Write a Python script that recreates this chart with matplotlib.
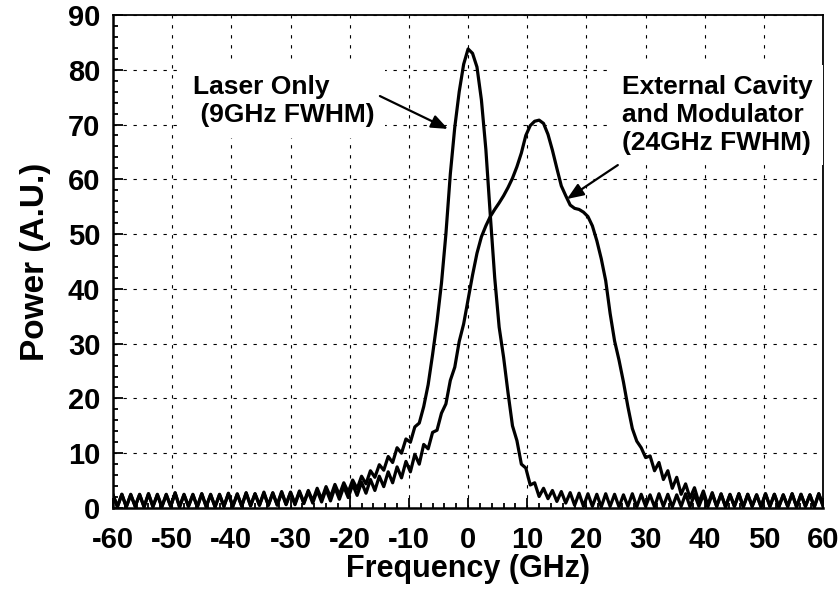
#!/usr/bin/env python3
# -*- coding: utf-8 -*-
"""
Spectrum of the laser alone vs. laser + external cavity and modulator
"""

import numpy as np

import matplotlib as mpl
mpl.use('Agg')
import matplotlib.pyplot as plt

font_name = ['Liberation Sans', 'DejaVu Sans']
mpl.rc('font', family=font_name, weight='bold')
mpl.rc('axes', unicode_minus=False)

# sample grid of the measurement (GHz), 0.75 GHz step
freq = np.linspace(-60, 60, 161)

# power (A.U.)
laser_only = [
    2.4, 0.2, 2.5, 0.2, 2.4, 0.3, 2.5, 0.2, 2.6, 0.3,
    2.4, 0.2, 2.5, 0.3, 2.8, 0.2, 2.4, 0.3, 2.5, 0.2,
    2.6, 0.3, 2.4, 0.2, 2.5, 0.3, 2.7, 0.3, 2.5, 0.4,
    2.8, 0.4, 2.6, 0.5, 2.9, 0.5, 2.8, 0.6, 3.0, 0.7,
    2.9, 0.8, 3.1, 1.0, 3.2, 1.3, 3.6, 1.6, 3.9, 2.0,
    4.3, 2.4, 4.6, 2.9, 5.1, 3.5, 5.8, 4.4, 6.8, 5.6,
    7.9, 6.9, 9.4, 8.3, 11.0, 10.0, 12.6, 12.0, 14.8, 15.5,
    18.5, 22.5, 28.0, 34.0, 41.0, 50.0, 61.0, 69.5, 76.0, 81.0,
    83.8, 83.0, 80.5, 74.5, 65.5, 53.5, 42.0, 33.0, 27.5, 21.0,
    15.0, 12.3, 8.0, 7.3, 4.2, 4.6, 2.1, 3.6, 1.7, 3.2,
    1.2, 3.0, 0.9, 2.8, 0.5, 2.7, 0.3, 2.6, 0.3, 2.5,
    0.2, 2.6, 0.3, 2.5, 0.2, 2.4, 0.3, 2.6, 0.2, 2.5,
    0.3, 2.4, 0.2, 2.6, 0.3, 2.5, 0.2, 2.4, 0.3, 2.6,
    0.2, 2.5, 0.3, 2.4, 0.2, 2.6, 0.3, 2.5, 0.2, 2.4,
    0.3, 2.6, 0.2, 2.5, 0.3, 2.4, 0.2, 2.6, 0.3, 2.5,
    0.2, 2.4, 0.3, 2.6, 0.2, 2.5, 0.3, 2.4, 0.2, 2.6,
    0.3,
]

cavity_mod = [
    2.4, 0.3, 2.5, 0.2, 2.5, 0.3, 2.4, 0.2, 2.6, 0.2,
    2.5, 0.2, 2.4, 0.3, 2.7, 0.2, 2.5, 0.3, 2.4, 0.2,
    2.6, 0.2, 2.5, 0.2, 2.4, 0.3, 2.6, 0.3, 2.6, 0.3,
    2.7, 0.4, 2.6, 0.5, 2.7, 0.5, 2.7, 0.5, 2.8, 0.6,
    2.8, 0.6, 2.9, 0.8, 3.0, 0.9, 3.2, 1.1, 3.4, 1.3,
    3.7, 1.6, 3.9, 1.9, 4.3, 2.3, 4.7, 2.7, 5.2, 3.2,
    5.8, 3.9, 6.6, 4.6, 7.5, 5.5, 8.5, 6.6, 9.8, 8.0,
    11.6, 10.8, 13.8, 14.2, 17.3, 19.0, 23.3, 25.7, 30.4, 33.6,
    38.0, 42.5, 46.5, 49.5, 51.5, 53.2, 54.5, 55.7, 57.0, 58.5,
    60.2, 62.3, 64.8, 68.0, 69.8, 70.6, 70.8, 70.2, 68.2, 65.3,
    62.0, 58.8, 57.0, 55.3, 54.7, 54.5, 54.0, 53.2, 51.5, 48.8,
    45.5, 41.5, 35.5, 30.5, 27.0, 23.0, 18.5, 14.5, 12.2, 11.0,
    9.2, 9.5, 6.8, 8.3, 5.2, 6.8, 3.6, 5.6, 2.5, 4.4,
    1.8, 3.7, 1.0, 3.1, 0.5, 2.8, 0.3, 2.6, 0.2, 2.5,
    0.3, 2.6, 0.2, 2.5, 0.3, 2.4, 0.2, 2.6, 0.3, 2.5,
    0.2, 2.4, 0.3, 2.6, 0.2, 2.5, 0.3, 2.4, 0.2, 2.6,
    0.3,
]

x_ticks = np.arange(-60, 61, 10)
y_ticks = np.arange(0, 91, 10)

fig = plt.figure(figsize=(8.4, 5.94), dpi=100)
ax = fig.add_axes([0.1345, 0.1448, 0.8455, 0.83])

ax.plot(freq, laser_only, color='black', lw=2.3)
ax.plot(freq, cavity_mod, color='black', lw=2.3)

ax.set_xlim(-60, 60)
ax.set_ylim(0, 90)
ax.set_xticks(x_ticks)
ax.set_yticks(y_ticks)
ax.set_xticks(np.arange(-60, 61, 2), minor=True)
ax.set_yticks(np.arange(0, 91, 2), minor=True)
ax.tick_params(which='both', direction='in', top=False, right=False,
               width=1.3, labelsize=21)
ax.tick_params(which='major', length=7)
ax.tick_params(which='minor', length=3.6)
ax.tick_params(axis='x', pad=13)
ax.tick_params(axis='y', pad=9)

for side in ['left', 'bottom']:
    ax.spines[side].set_linewidth(1.8)
for side in ['top', 'right']:
    ax.spines[side].set_linewidth(1.3)

ax.grid(which='major', color='black', linestyle=(0, (3, 6)), linewidth=0.8)

ax.set_xlabel("Frequency (GHz)", fontsize=22, fontweight='bold', labelpad=0)
ax.set_ylabel("Power (A.U.)", fontsize=24, fontweight='bold', labelpad=12)

box = dict(boxstyle='square,pad=0.4', facecolor='white', edgecolor='none')

ax.text(-46.5, 79.0, "Laser Only\n (9GHz FWHM)", fontsize=19,
        fontweight='bold', ha='left', va='top', bbox=box, zorder=3)
ax.text(26.0, 79.0, "External Cavity\nand Modulator\n(24GHz FWHM)",
        fontsize=19, fontweight='bold', ha='left', va='top', bbox=box,
        zorder=3)

arrow = dict(arrowstyle='-|>,head_length=1.0,head_width=0.4',
             color='black', lw=1.6, shrinkA=0, shrinkB=0)
ax.annotate("", xy=(-3.4, 69.2), xytext=(-14.9, 75.2), arrowprops=arrow,
            zorder=4)
ax.annotate("", xy=(16.7, 56.4), xytext=(25.3, 62.6), arrowprops=arrow,
            zorder=4)

fig.savefig('out.png', dpi=100)
